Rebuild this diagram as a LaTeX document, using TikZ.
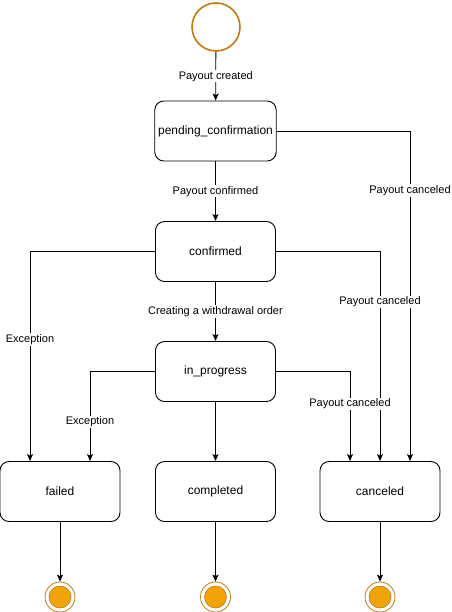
\documentclass[tikz,border=0pt]{standalone}
\usepackage{fontspec}
\setmainfont{Liberation Sans}
\usetikzlibrary{arrows.meta}
\definecolor{ringorange}{HTML}{C47A14}
\definecolor{dotorange}{HTML}{F0A30A}

\begin{document}
\begin{tikzpicture}[x=1pt, y=-1pt,
    state/.style={draw, rounded corners=9pt, minimum width=120pt, minimum height=60pt, line width=0.9pt, font=\fontsize{12}{14}\selectfont},
    startstate/.style={circle, draw=ringorange, line width=1.6pt, minimum size=48pt, inner sep=0pt},
    endstate/.style={circle, draw=ringorange, line width=0.8pt, minimum size=30pt, inner sep=0pt},
    enddot/.style={circle, draw=ringorange, fill=dotorange, line width=0.6pt, minimum size=22pt, inner sep=0pt},
    edgelabel/.style={fill=white, inner sep=1pt, font=\fontsize{11}{13}\selectfont},
    flow/.style={-{Stealth[length=7pt, width=6pt, inset=1.5pt]}, line width=0.8pt}]
            \useasboundingbox (0, 0) rectangle (451, 612);

            \node[startstate] (start) at (216, 27) {};
            \node[state] (pending) at (215.5, 131) {pending\_confirmation};
            \node[state] (confirmed) at (215.5, 251.5) {confirmed};
            \node[state] (progress) at (215.5, 371.5) {in\_progress};
            \node[state] (failed) at (60, 491.5) {failed};
            \node[state] (completed) at (215.5, 491.5) {completed};
            \node[state] (canceled) at (380, 491.5) {canceled};

            \foreach \name/\x in {failed/60, completed/215.5, canceled/380} {
                \node[endstate] (end\name) at (\x, 597) {};
                \node[enddot] (dot\name) at (end\name) {};
                \draw[flow] (\name) -- (end\name);
            };

            \draw[flow] (start) -- node[edgelabel] {Payout created} (pending);
            \draw[flow] (pending) -- node[edgelabel] {Payout confirmed} (confirmed);
            \draw[flow] (confirmed) -- node[edgelabel] {Creating a withdrawal order} (progress);
            \draw[flow] (progress) -- (completed);

            \draw[flow] (pending.east) -| node[edgelabel, pos=0.59] {Payout canceled} ([xshift=30pt]canceled.north);
            \draw[flow] (confirmed.west) -| node[edgelabel, pos=0.71] {Exception} ([xshift=-30pt]failed.north);
            \draw[flow] (confirmed.east) -| node[edgelabel, pos=0.62] {Payout canceled} (canceled.north);
            \draw[flow] (progress.west) -| node[edgelabel, pos=0.78] {Exception} ([xshift=30pt]failed.north);
            \draw[flow] (progress.east) -| node[edgelabel, pos=0.68] {Payout canceled} ([xshift=-30pt]canceled.north);
        \end{tikzpicture}
\end{document}
